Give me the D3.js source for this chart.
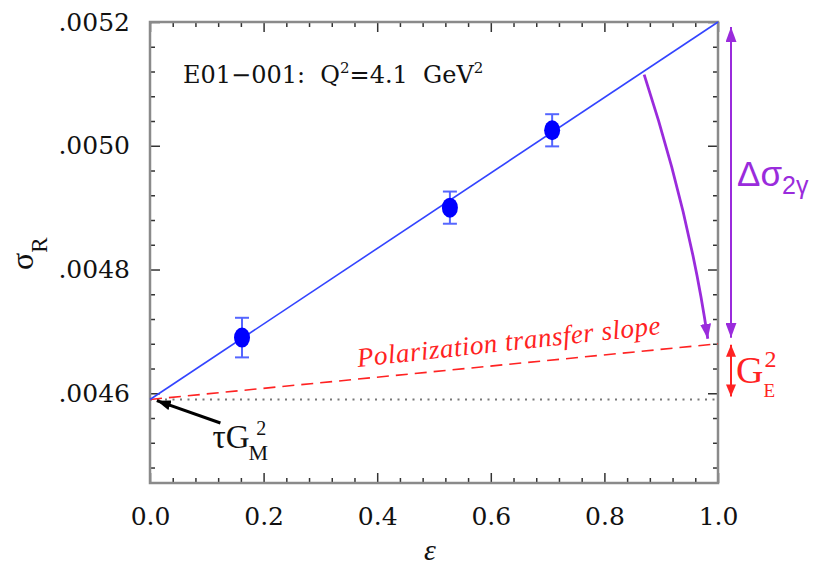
<!DOCTYPE html>
<html>
<head>
<meta charset="utf-8">
<script src="https://cdn.jsdelivr.net/npm/d3@7"></script>
<style>
  html, body { margin: 0; padding: 0; background: #fff; overflow: hidden; }
  svg { display: block; }
  .tick text { font-family: "DejaVu Serif", serif; font-size: 25px; fill: #111; }
  .tick line { stroke: #333; stroke-width: 1.5; }
</style>
</head>
<body>
<script>
// Data
const eps = [0.162, 0.528, 0.708];
const sigmaR = [0.00469, 0.0049, 0.005025];
const sigmaErr = [0.000032, 0.000026, 0.000026];

// Rosenbluth fit and polarization-transfer slope (endpoints at eps = 0 and 1)
const fitEps = [0, 1];
const fitSigma = [0.00459, 0.0052];
const ptSigma = [0.00459, 0.00468];
const tauGM2 = 0.00459;

// Axes
const xMajor = [0, 0.2, 0.4, 0.6, 0.8, 1.0];
const xLabels = ["0.0", "0.2", "0.4", "0.6", "0.8", "1.0"];
const yMajor = [0.0046, 0.0048, 0.0050, 0.0052];
const yLabels = [".0046", ".0048", ".0050", ".0052"];

// Dimensions
const width = 829;
const height = 565;
const margin = { top: 22, right: 111, bottom: 82, left: 150 };
const innerW = width - margin.left - margin.right;
const innerH = height - margin.top - margin.bottom;

const blue = "#3344ff";
const red = "#ff2222";
const purple = "#9a2bdc";

const svg = d3.select("body").append("svg")
  .attr("width", width)
  .attr("height", height);

const defs = svg.append("defs");
function arrowMarker(id, color, w, l) {
  defs.append("marker")
    .attr("id", id)
    .attr("viewBox", `0 ${-w / 2} ${l} ${w}`)
    .attr("refX", l)
    .attr("refY", 0)
    .attr("markerUnits", "userSpaceOnUse")
    .attr("markerWidth", l)
    .attr("markerHeight", w)
    .attr("orient", "auto-start-reverse")
    .append("path")
    .attr("d", `M0,${-w / 2}L${l},0L0,${w / 2}Z`)
    .attr("fill", color);
}
arrowMarker("ap", purple, 11, 15);
arrowMarker("ar", red, 10, 12);
arrowMarker("ak", "#000", 10, 14);

const g = svg.append("g")
  .attr("transform", `translate(${margin.left}, ${margin.top})`);

const x = d3.scaleLinear().domain([0, 1]).range([0, innerW]);
const y = d3.scaleLinear().domain([0.004455, 0.0052]).range([innerH, 0]);

const xMinor = d3.range(0, 1.0001, 0.04).filter(v => !xMajor.some(m => Math.abs(m - v) < 1e-6));
const yMinor = d3.range(0.00448, 0.00521, 0.00004).filter(v => !yMajor.some(m => Math.abs(m - v) < 1e-9));

// Ticks pointing inward on all four sides
function addAxis(axis, tr) {
  const a = g.append("g").attr("transform", tr).call(axis);
  a.select(".domain").remove();
  return a;
}
addAxis(d3.axisBottom(x).tickValues(xMajor).tickSize(-10).tickPadding(24)
  .tickFormat((d, i) => xLabels[i]), `translate(0, ${innerH})`);
addAxis(d3.axisBottom(x).tickValues(xMinor).tickSize(-5).tickFormat(""), `translate(0, ${innerH})`);
addAxis(d3.axisTop(x).tickValues(xMajor).tickSize(-10).tickFormat(""), "translate(0, 0)");
addAxis(d3.axisTop(x).tickValues(xMinor).tickSize(-5).tickFormat(""), "translate(0, 0)");
addAxis(d3.axisLeft(y).tickValues(yMajor).tickSize(-10).tickPadding(20)
  .tickFormat((d, i) => yLabels[i]), "translate(0, 0)");
addAxis(d3.axisLeft(y).tickValues(yMinor).tickSize(-5).tickFormat(""), "translate(0, 0)");
addAxis(d3.axisRight(y).tickValues(yMajor).tickSize(-10).tickFormat(""), `translate(${innerW}, 0)`);
addAxis(d3.axisRight(y).tickValues(yMinor).tickSize(-5).tickFormat(""), `translate(${innerW}, 0)`);

// Frame
g.append("rect")
  .attr("width", innerW)
  .attr("height", innerH)
  .attr("fill", "none")
  .attr("stroke", "#8a8a8a")
  .attr("stroke-width", 2.5);

// Horizontal dotted line at tau*GM^2
g.append("line")
  .attr("x1", x(0)).attr("x2", x(1))
  .attr("y1", y(tauGM2)).attr("y2", y(tauGM2))
  .attr("stroke", "#777")
  .attr("stroke-width", 2)
  .attr("stroke-dasharray", "2,5.5");

const line = d3.line().x(d => x(d[0])).y(d => y(d[1]));

// Polarization transfer slope
g.append("path")
  .datum(fitEps.map((e, i) => [e, ptSigma[i]]))
  .attr("d", line)
  .attr("fill", "none")
  .attr("stroke", red)
  .attr("stroke-width", 1.6)
  .attr("stroke-dasharray", "12,7");

// Linear fit
g.append("path")
  .datum(fitEps.map((e, i) => [e, fitSigma[i]]))
  .attr("d", line)
  .attr("fill", "none")
  .attr("stroke", blue)
  .attr("stroke-width", 1.6);

// Error bars
const pts = eps.map((e, i) => ({ e, v: sigmaR[i], err: sigmaErr[i] }));
const eb = g.selectAll(".eb").data(pts).enter().append("g").attr("class", "eb");
eb.append("line")
  .attr("x1", d => x(d.e)).attr("x2", d => x(d.e))
  .attr("y1", d => y(d.v - d.err)).attr("y2", d => y(d.v + d.err))
  .attr("stroke", "#5566ff").attr("stroke-width", 2);
[-1, 1].forEach(s => {
  eb.append("line")
    .attr("x1", d => x(d.e) - 7).attr("x2", d => x(d.e) + 7)
    .attr("y1", d => y(d.v + s * d.err)).attr("y2", d => y(d.v + s * d.err))
    .attr("stroke", "#5566ff").attr("stroke-width", 2);
});
eb.append("ellipse")
  .attr("cx", d => x(d.e))
  .attr("cy", d => y(d.v))
  .attr("rx", 8)
  .attr("ry", 10)
  .attr("fill", "#0000ff");

// Experiment label
g.append("text")
  .attr("x", 33)
  .attr("y", 61)
  .style("font-family", "'DejaVu Serif', serif")
  .style("font-size", "24px")
  .style("white-space", "pre")
  .attr("fill", "#111")
  .html('E01\u2212001:  Q<tspan dy="-10" font-size="15px">2</tspan><tspan dy="10">=4.1  GeV</tspan><tspan dy="-10" font-size="15px">2</tspan>');

// Polarization transfer label along the red line
const ang = Math.atan2(y(ptSigma[1]) - y(ptSigma[0]), x(1) - x(0)) * 180 / Math.PI - 0.6;
g.append("text")
  .attr("transform", `translate(${x(0.366)}, ${y(0.00462) - 14}) rotate(${ang})`)
  .style("font-family", "'Liberation Serif', serif")
  .style("font-style", "italic")
  .style("font-size", "27px")
  .attr("textLength", 305)
  .attr("lengthAdjust", "spacing")
  .attr("fill", red)
  .text("Polarization transfer slope");

// Curved purple arrow from the fit line down to the PT line
const cStart = [0.87, 0.005115];
const cCtrl = [0.95, 0.00489];
const cEnd = [0.982, 0.004688];
g.append("path")
  .attr("d", `M${x(cStart[0])},${y(cStart[1])}Q${x(cCtrl[0])},${y(cCtrl[1])} ${x(cEnd[0])},${y(cEnd[1])}`)
  .attr("fill", "none")
  .attr("stroke", purple)
  .attr("stroke-width", 2.8)
  .attr("marker-end", "url(#ap)");

// Vertical double arrows outside the frame
const axX = innerW + 13;
g.append("line")
  .attr("x1", axX).attr("x2", axX)
  .attr("y1", y(fitSigma[1]) + 5).attr("y2", y(ptSigma[1]) - 6)
  .attr("stroke", purple).attr("stroke-width", 2)
  .attr("marker-start", "url(#ap)")
  .attr("marker-end", "url(#ap)");
g.append("line")
  .attr("x1", axX).attr("x2", axX)
  .attr("y1", y(ptSigma[1]) + 1).attr("y2", y(tauGM2) - 3)
  .attr("stroke", red).attr("stroke-width", 2)
  .attr("marker-start", "url(#ar)")
  .attr("marker-end", "url(#ar)");

g.append("text")
  .attr("x", axX + 6)
  .attr("y", 164)
  .style("font-family", "'Liberation Sans', sans-serif")
  .style("font-size", "35px")
  .attr("fill", purple)
  .html('\u0394\u03c3<tspan dy="8" font-size="25px">2\u03b3</tspan>');

g.append("text")
  .attr("x", axX + 5)
  .attr("y", 361)
  .style("font-family", "'Liberation Serif', serif")
  .style("font-size", "38px")
  .attr("fill", red)
  .html('G<tspan dx="1" dy="-16" font-size="24px">2</tspan><tspan dx="-13" dy="30" font-size="19px">E</tspan>');

// tau GM^2 annotation with black arrow
g.append("line")
  .attr("x1", x(0.124)).attr("y1", y(0.004552))
  .attr("x2", x(0.012)).attr("y2", y(0.004588))
  .attr("stroke", "#000").attr("stroke-width", 3)
  .attr("marker-end", "url(#ak)");
g.append("text")
  .attr("x", x(0.11))
  .attr("y", 426)
  .style("font-family", "'Liberation Serif', serif")
  .style("font-size", "33px")
  .attr("fill", "#111")
  .html('\u03c4G<tspan dx="-1" dy="12" font-size="22px">M</tspan><tspan dx="-12" dy="-25" font-size="20px">2</tspan>');

// Axis titles
svg.append("text")
  .attr("transform", "translate(33, 270) rotate(-90)")
  .style("font-family", "'Liberation Serif', serif")
  .style("font-size", "32px")
  .attr("fill", "#111")
  .html('\u03c3<tspan dy="14" font-size="23px">R</tspan>');

svg.append("text")
  .attr("x", 430)
  .attr("y", 560)
  .attr("text-anchor", "middle")
  .style("font-family", "'Liberation Serif', serif")
  .style("font-style", "italic")
  .style("font-size", "30px")
  .attr("fill", "#111")
  .text("\u03b5");
</script>
</body>
</html>
